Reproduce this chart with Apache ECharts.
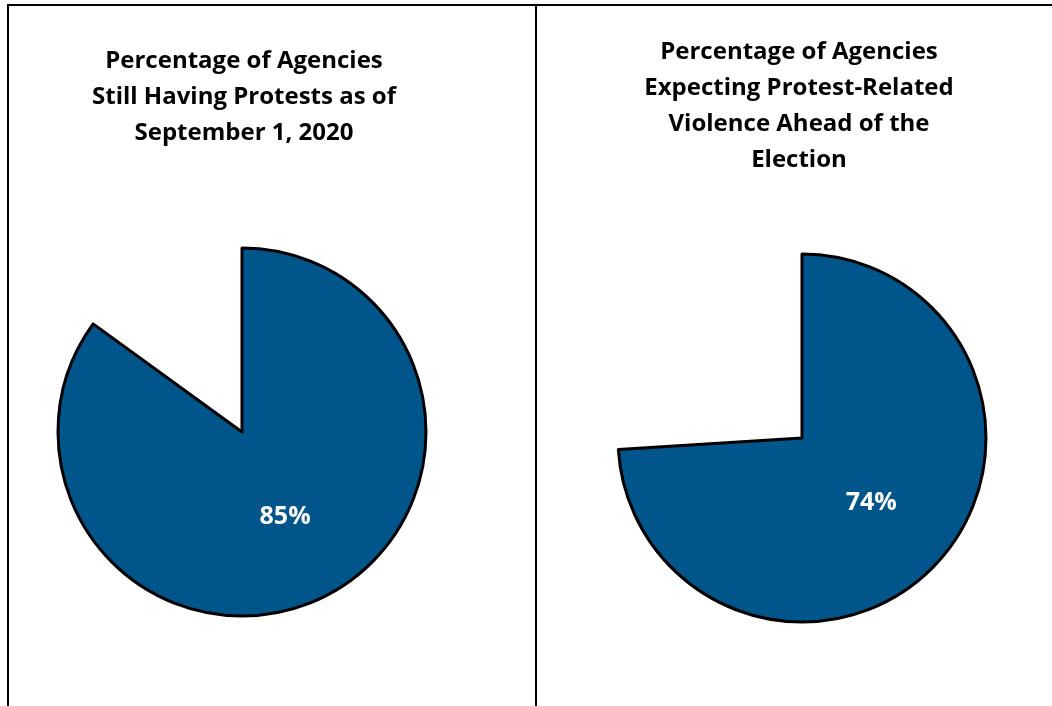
<!DOCTYPE html>
<html>
<head>
<meta charset="utf-8">
<script src="https://cdn.jsdelivr.net/npm/echarts@6/dist/echarts.min.js"></script>
<style>
html, body { margin: 0; padding: 0; background: #fff; }
#chart { width: 1052px; height: 706px; }
</style>
</head>
<body>
<div id="chart"></div>
<script>
// data
var titles = [
  'Percentage of Agencies\nStill Having Protests as of\nSeptember 1, 2020',
  'Percentage of Agencies\nExpecting Protest-Related\nViolence Ahead of the\nElection'
];
var yesValues = [85, 74];
var restValues = [15, 26];

var fill = '#00558A';

function pieSeries(i, center) {
  return {
    type: 'pie',
    center: center,
    radius: 184,
    startAngle: 90,
    clockwise: true,
    silent: true,
    animation: false,
    labelLine: { show: false },
    data: [
      {
        value: yesValues[i],
        itemStyle: { color: fill, borderColor: '#000', borderWidth: 3 },
        label: {
          show: true, position: 'inside', formatter: yesValues[i] + '%',
          color: '#fff', fontSize: 25, fontWeight: 'bold', fontFamily: 'Open Sans'
        }
      },
      {
        value: restValues[i],
        itemStyle: { color: 'rgba(0,0,0,0)', borderWidth: 0 },
        label: { show: false }
      }
    ]
  };
}

var chart = echarts.init(document.getElementById('chart'));
var titleStyle = { fontFamily: 'Open Sans', fontWeight: 'bold', fontSize: 24, color: '#000', lineHeight: 36 };
var option = {
  backgroundColor: '#fff',
  title: [
    { text: titles[0], left: 239, top: 38, textAlign: 'center', textStyle: titleStyle },
    { text: titles[1], left: 794, top: 29, textAlign: 'center', textStyle: titleStyle }
  ],
  graphic: [
    { type: 'line', shape: { x1: 7, y1: 5, x2: 1052, y2: 5 }, style: { stroke: '#000', lineWidth: 2 } },
    { type: 'line', shape: { x1: 8, y1: 4, x2: 8, y2: 706 }, style: { stroke: '#000', lineWidth: 2 } },
    { type: 'line', shape: { x1: 536, y1: 4, x2: 536, y2: 706 }, style: { stroke: '#000', lineWidth: 2 } }
  ],
  series: [
    pieSeries(0, [242, 432]),
    pieSeries(1, [802, 438])
  ]
};
chart.setOption(option);
</script>
</body>
</html>
